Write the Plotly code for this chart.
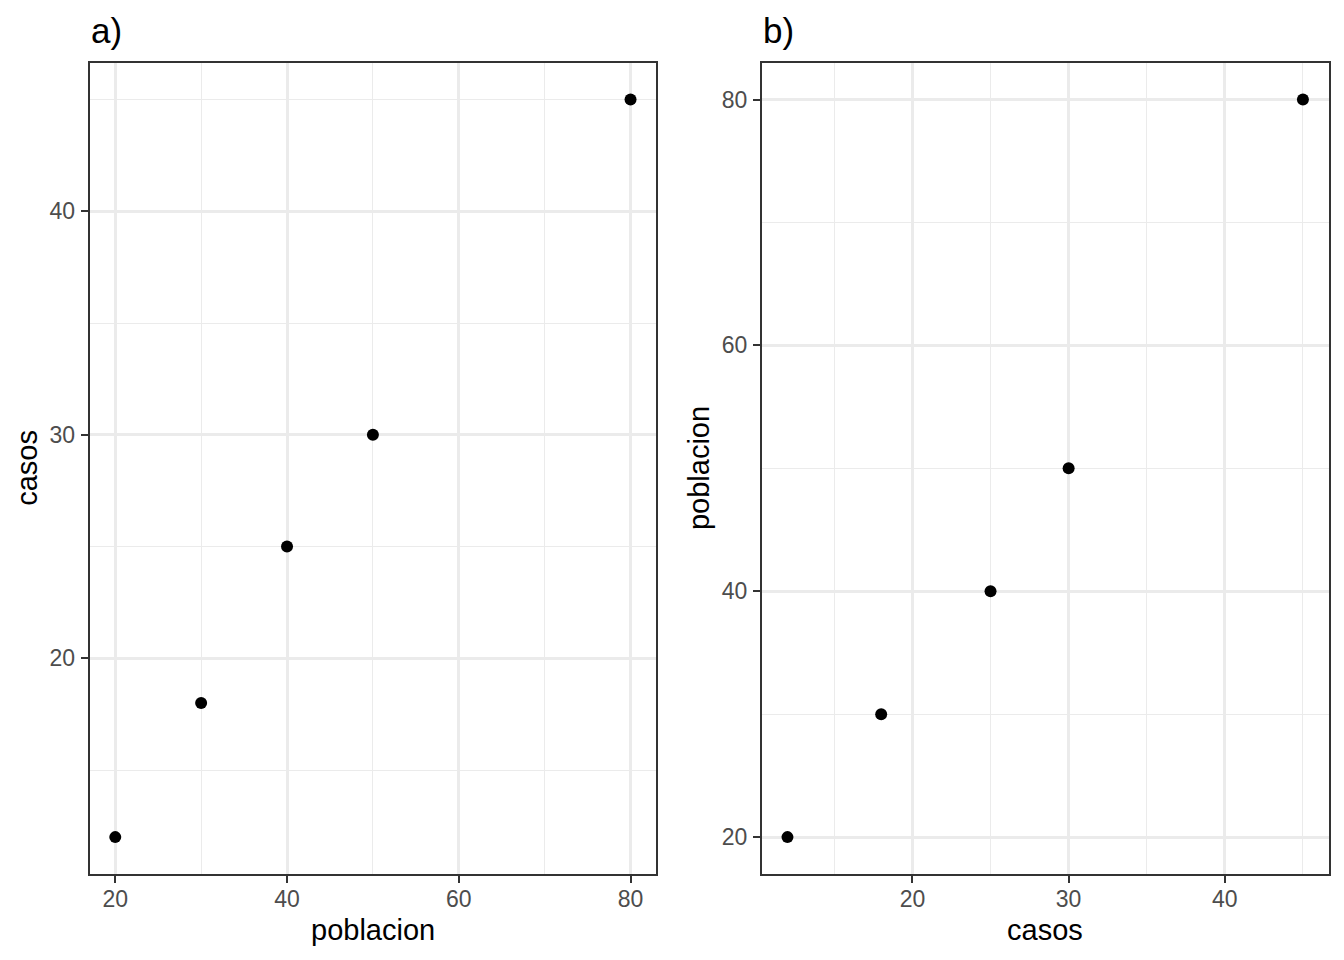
import plotly.graph_objects as go

poblacion = [20, 30, 40, 50, 80]
casos = [12, 18, 25, 30, 45]

# the page body adds an 8px margin, so the figure is drawn 8px in
OFF = 8
W, H = 1344 - 2 * OFF, 960 - 2 * OFF
FONT = "Liberation Sans, Arial, sans-serif"

# panel edges measured on the reference (page pixels)
panel_a = (89.5, 656.3)
panel_b = (761.7, 1328.7)
top, bottom = 62.7, 874.0


def px_x(v):
    return (v - OFF) / W


def px_y(v):
    return 1 - (v - OFF) / H


def expand(vals):
    lo, hi = min(vals), max(vals)
    pad = (hi - lo) * 0.05
    return [lo - pad, hi + pad]


def axis_style(major, minor, standoff):
    return dict(
        tickvals=major,
        ticks="outside",
        ticklen=7,
        tickwidth=2,
        tickcolor="#333333",
        tickfont=dict(size=23, color="#4D4D4D", family=FONT),
        ticklabelstandoff=standoff,
        showgrid=True,
        gridcolor="#EBEBEB",
        gridwidth=2.5,
        minor=dict(tickvals=minor, showgrid=True, gridcolor="#EBEBEB", gridwidth=1.3, ticks=""),
        showline=True,
        linecolor="#333333",
        linewidth=1.5,
        mirror=True,
        zeroline=False,
        fixedrange=True,
    )


fig = go.Figure()

fig.add_trace(go.Scatter(
    x=poblacion, y=casos, mode="markers",
    marker=dict(color="black", size=12),
    xaxis="x", yaxis="y", showlegend=False,
))
fig.add_trace(go.Scatter(
    x=casos, y=poblacion, mode="markers",
    marker=dict(color="black", size=12),
    xaxis="x2", yaxis="y2", showlegend=False,
))

ydom = [px_y(bottom), px_y(top)]

fig.update_layout(
    width=W, height=H,
    margin=dict(l=0, r=0, t=0, b=0),
    paper_bgcolor="white",
    plot_bgcolor="white",
    font=dict(family=FONT),
    xaxis=dict(axis_style([20, 40, 60, 80], [30, 50, 70], -3),
               domain=[px_x(panel_a[0]), px_x(panel_a[1])], range=expand(poblacion), anchor="y"),
    yaxis=dict(axis_style([20, 30, 40], [15, 25, 35, 45], 1),
               domain=ydom, range=expand(casos), anchor="x"),
    xaxis2=dict(axis_style([20, 30, 40], [15, 25, 35, 45], -3),
                domain=[px_x(panel_b[0]), px_x(panel_b[1])], range=expand(casos), anchor="y2"),
    yaxis2=dict(axis_style([20, 40, 60, 80], [30, 50, 70], 1),
                domain=ydom, range=expand(poblacion), anchor="x2"),
)

# panel titles
for label, left in [("a)", panel_a[0]), ("b)", panel_b[0])]:
    fig.add_annotation(
        text=label, xref="paper", yref="paper",
        x=px_x(left - 1), y=px_y(30), xanchor="left", yanchor="middle",
        showarrow=False, font=dict(size=35, color="black", family=FONT),
    )

# axis titles
title_font = dict(size=29, color="black", family=FONT)
for (left, right), xt, yt in [(panel_a, "poblacion", "casos"), (panel_b, "casos", "poblacion")]:
    fig.add_annotation(
        text=xt, xref="paper", yref="paper",
        x=px_x((left + right) / 2), y=px_y(930), xanchor="center", yanchor="middle",
        showarrow=False, font=title_font,
    )
    fig.add_annotation(
        text=yt, xref="paper", yref="paper", textangle=-90,
        x=px_x(left - 62), y=px_y((top + bottom) / 2), xanchor="center", yanchor="middle",
        showarrow=False, font=title_font,
    )

fig.write_html("out.html")
